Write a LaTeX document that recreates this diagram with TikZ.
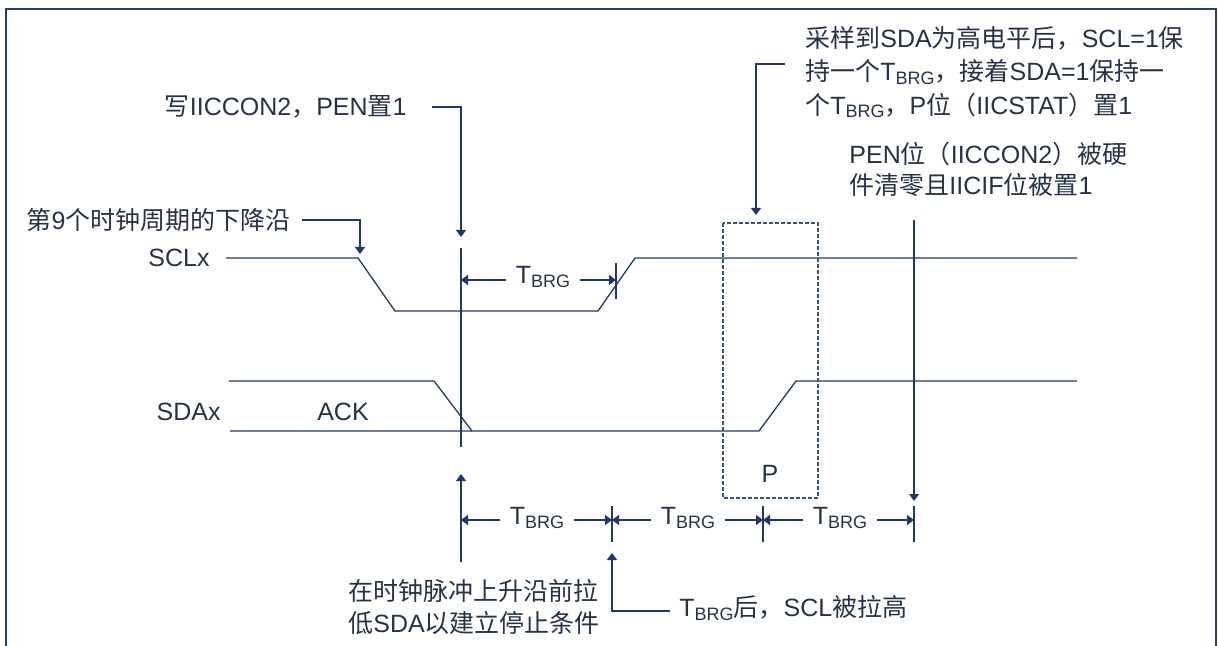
\documentclass[tikz,border=0pt]{standalone}
\usepackage{fontspec}
\setmainfont{Liberation Sans}
\newfontfamily\cjkf{Noto Sans CJK SC}
\newcommand\C[1]{{\cjkf #1}}
\newcommand\Tb{T\raisebox{-1.6pt}{\fontsize{9}{9}\selectfont BRG}}
\usetikzlibrary{arrows.meta}
\definecolor{ln}{RGB}{35,55,110}
\definecolor{tx}{RGB}{38,50,70}
\definecolor{frm}{RGB}{40,60,120}
\definecolor{dsh}{RGB}{60,80,130}
\begin{document}
\begin{tikzpicture}[x=0.5pt,y=-0.5pt,
  font=\fontsize{12.5}{15}\selectfont,
  every node/.style={text=tx, inner sep=0pt},
  sig/.style={draw=ln, line width=0.65pt},
  tip/.style={draw=ln, line width=0.65pt, -{Triangle[width=5pt,length=3.5pt]}},
  dimtxt/.style={inner sep=4.5pt},
  blk/.style={anchor=west, align=left}]
\useasboundingbox (0,0) rectangle (1218,646);
\draw[draw=frm, line width=0.7pt] (6,646) -- (6,9) -- (1216,9) -- (1216,646);

% signal labels
\node[anchor=east] (scl) at (210,258) {SCLx};
\node[anchor=east] (sda) at (221,412) {SDAx};
\node (ack) at (343,412) {ACK};

% waveforms
\draw[sig] (226,258) -- (358,258) -- (395,311) -- (598,311) -- (635,258) -- (1077,258);
\draw[sig] (229,381) -- (434,381) -- (472,431);
\draw[sig] (230,431) -- (759,431) -- (796,381) -- (1077,381);

% vertical marker at start
\coordinate (va) at (461,248);
\coordinate (vb) at (461,447);
\draw[sig] (va) -- (vb);

% write IICCON2
\node[anchor=east] (wr) at (407,107) {\C{写}IICCON2\C{，}PEN\C{置}1};
\coordinate (pa) at (461,237);
\draw[tip] (wr.east) ++(25,0) -- (461,107) -- (pa);

% 9th clock falling edge
\node[anchor=east] (n9) at (291,220) {\C{第}9\C{个时钟周期的下降沿}};
\coordinate (fa) at (360,254);
\draw[tip] (n9.east) ++(11,0) -- (360,220) -- (fa);

% top TBRG dimension
\coordinate (tk0a) at (616,263);
\coordinate (tk0b) at (616,299);
\draw[sig] (tk0a) -- (tk0b);
\coordinate (L0) at (461,280);
\coordinate (R0) at (616,280);
\node[dimtxt] (d0) at (543,277) {\Tb};
\draw[tip] (d0.west |- L0) -- (L0);
\draw[tip] (d0.east |- R0) -- (R0);

% dashed P box
\draw[draw=dsh, line width=0.6pt, dash pattern=on 2pt off 1pt] (723,223) rectangle (818,498);
\node (p) at (770,474) {P};

% top right text
\node[blk, font=\fontsize{12.5}{16.75}\selectfont] (t1) at (805,72)
  {\C{采样到}SDA\C{为高电平后，}SCL=1\C{保}\\
   \C{持一个}\Tb\C{，接着}SDA=1\C{保持一}\\
   \C{个}\Tb\C{，}P\C{位（}IICSTAT\C{）置}1};
\coordinate (a1) at (785,64);
\coordinate (a1t) at (756,215);
\draw[tip] (a1) -- (756,64) -- (a1t);

\node[blk, font=\fontsize{12.5}{15.5}\selectfont] (t2) at (849,169.5)
  {PEN\C{位（}IICCON2\C{）被硬}\\
   \C{件清零且}IICIF\C{位被置}1};
\coordinate (a2) at (914,220);
\coordinate (a2t) at (914,501);
\draw[tip] (a2) -- (a2t);

% bottom ticks
\foreach \x/\n in {612/1,763/2,914/3}{
  \coordinate (tk\n a) at (\x,506);
  \coordinate (tk\n b) at (\x,542);
  \draw[sig] (tk\n a) -- (tk\n b);
}

% bottom dimensions
\coordinate (B0) at (461,520);
\coordinate (B1) at (612,520);
\coordinate (B2) at (763,520);
\coordinate (B3) at (914,520);
\node[dimtxt] (d1) at (537,518) {\Tb};
\node[dimtxt] (d2) at (688,518) {\Tb};
\node[dimtxt] (d3) at (840,518) {\Tb};
\draw[tip] (d1.west |- B0) -- (B0);
\draw[tip] (d1.east |- B1) -- (B1);
\draw[tip] (d2.west |- B1) -- (B1);
\draw[tip] (d2.east |- B2) -- (B2);
\draw[tip] (d3.west |- B2) -- (B2);
\draw[tip] (d3.east |- B3) -- (B3);

% bottom up arrows
\coordinate (u0) at (461,562);
\coordinate (u0t) at (461,474);
\draw[tip] (u0) -- (u0t);

\node[blk, font=\fontsize{12.5}{16}\selectfont] (bt) at (348,607)
  {\C{在时钟脉冲上升沿前拉}\\
   \C{低}SDA\C{以建立停止条件}};

\node[anchor=west] (tb) at (679,608) {\Tb\C{后，}SCL\C{被拉高}};
\coordinate (u1t) at (612,553);
\draw[tip] (tb.west) ++(-9,3) -- (612,611) -- (u1t);
\end{tikzpicture}
\end{document}
